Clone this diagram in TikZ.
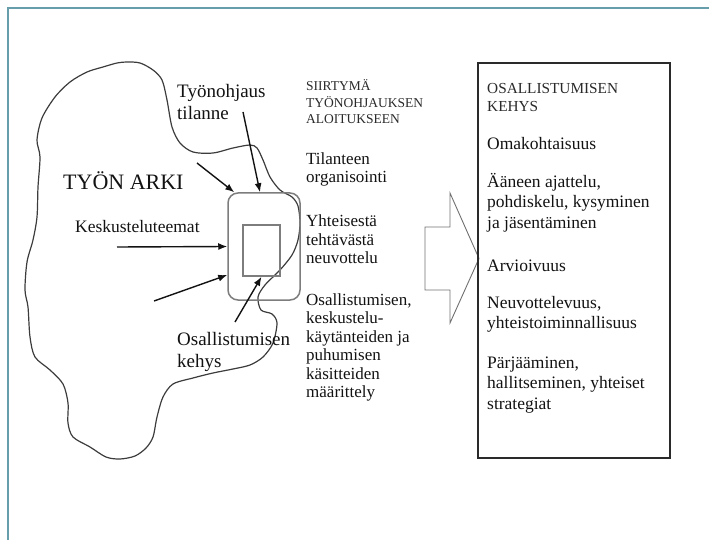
\documentclass[tikz,border=0pt]{standalone}
\usepackage{fontspec}
\setmainfont{Liberation Serif}
\usetikzlibrary{calc,arrows.meta}
\definecolor{frameteal}{RGB}{104,158,172}
\definecolor{ink}{RGB}{18,18,18}
\definecolor{pencil}{RGB}{60,60,60}
\definecolor{boxgray}{RGB}{125,125,125}
\tikzset{
	bigtext/.style  = {anchor=base west, inner sep=0pt, text=ink, align=left,
		font=\fontsize{19}{22}\selectfont},
	arkitext/.style = {anchor=base west, inner sep=0pt, text=ink,
		font=\fontsize{22}{26}\selectfont},
	midtext/.style  = {anchor=base west, inner sep=0pt, text=ink, align=left,
		font=\fontsize{17}{18.5}\selectfont},
	midcaps/.style  = {anchor=base west, inner sep=0pt, text=ink!90, align=left,
		font=\fontsize{13.5}{16.2}\selectfont},
	boxtext/.style  = {anchor=base west, inner sep=0pt, text=ink, align=left,
		font=\fontsize{17.5}{20.5}\selectfont},
	boxcaps/.style  = {anchor=base west, inner sep=0pt, text=ink!90, align=left,
		font=\fontsize{15.3}{18.4}\selectfont},
	roundbox/.style = {draw=boxgray, line width=1.5pt, rectangle, rounded corners=10pt,
		minimum width=72, minimum height=107},
	minibox/.style  = {draw=boxgray, line width=1.5pt, rectangle,
		minimum width=37, minimum height=51},
	kehysbox/.style = {draw=ink!90, line width=2.2pt, rectangle,
		minimum width=192, minimum height=395},
	pointer/.style  = {->, line width=1.4pt, ink}
}

\begin{document}
\begin{tikzpicture}[>={Latex[length=9pt,width=7pt]}, x=1pt, y=-1pt]
	\useasboundingbox (0,0) rectangle (709,540);
	% slide frame
	\draw[frameteal, line width=2pt] (8,540) -- (8,8) -- (709,8);
	
	% the working day
	\draw[pencil, line width=1.2pt] plot[smooth cycle, tension=0.5] coordinates {
		(117,63) (127,62) (140,63) (153,70) (162,80) (167,100) (172,127) (180,143)
		(193,152) (213,153) (233,148) (250,145) (257,148) (263,160) (270,177)
		(280,190) (292,197) (298,206) (300,223) (298,240) (292,255) (280,270)
		(265,285) (258,297) (261,310) (272,314) (277,323) (273,343) (263,357)
		(250,365) (233,369) (213,373) (193,378) (173,384) (163,397) (157,417)
		(153,437) (146,448) (135,456) (120,459) (106,457) (90,447) (73,437)
		(68,423) (68,403) (63,384) (50,370) (35,357) (30,337) (28,307) (25,290)
		(27,262) (33,240) (37,217) (38,187) (40,157) (37,140) (42,118) (55,97)
		(70,82) (87,72) (103,67)};
	
	\draw
	% blocks of the left part (base = last line)
	node at (264,246.5)[roundbox] (tilanne) {}
	node at (261.5,250.5)[minibox] (kehys) {}
	node at (177,120)[bigtext] (ohjaus) {Työnohjaus\\tilanne}
	node at (63,189.3)[arkitext] (arki) {TYÖN ARKI}
	node at (75,233)[boxtext] (teemat) {Keskusteluteemat}
	node at (177,367)[bigtext] (osall) {Osallistumisen\\kehys}
	;
	
	\coordinate (a1) at (197,163);
	\coordinate (a2) at (243,112);
	\coordinate (a3) at (117,247);
	\coordinate (a4) at (154,301);
	\coordinate (a5) at (235,322);
	
	\draw[pointer](a1) -- ($(tilanne.north west)+(7,0)$);
	\draw[pointer](a2) -- ($(tilanne.north)+(-4,0)$);
	\draw[pointer](a3) -- (tilanne.west);
	\draw[pointer](a4) -- ($(tilanne.west)+(0,28.5)$);
	\draw[pointer](a5) -- (kehys.south);
	
	\draw
	% transition column
	node at (306,123.4)[midcaps] (siirtyma) {SIIRTYMÄ\\TYÖNOHJAUKSEN\\ALOITUKSEEN}
	node at (306,182.8)[midtext] (organ) {Tilanteen\\organisointi}
	node at (306,263.7)[midtext] (neuvo) {Yhteisestä\\tehtävästä\\neuvottelu}
	node at (306,397.5)[midtext] (maar) {Osallistumisen,\\keskustelu-\\käytänteiden ja\\puhumisen\\käsitteiden\\määrittely}
	;
	
	% big arrow
	\draw[boxgray!90!black, line width=0.9pt]
	(425,227) -- (450,227) -- (450,193) -- (479,258.5) -- (450,323) -- (450,290) -- (425,290) -- cycle;
	
	\draw
	% frame of participation
	node at (574,260.5)[kehysbox] (box) {}
	node at (487,111.7)[boxcaps] (otsikko) {OSALLISTUMISEN\\KEHYS}
	node at (487,150)[boxtext] (oma) {Omakohtaisuus}
	node at (487,228.3)[boxtext] (aane) {Ääneen ajattelu,\\pohdiskelu, kysyminen\\ja jäsentäminen}
	node at (487,271.7)[boxtext] (arvio) {Arvioivuus}
	node at (487,328.8)[boxtext] (neuvot) {Neuvottelevuus,\\yhteistoiminnallisuus}
	node at (487,409.3)[boxtext] (parj) {Pärjääminen,\\hallitseminen, yhteiset\\strategiat}
	;
\end{tikzpicture}
\end{document}
